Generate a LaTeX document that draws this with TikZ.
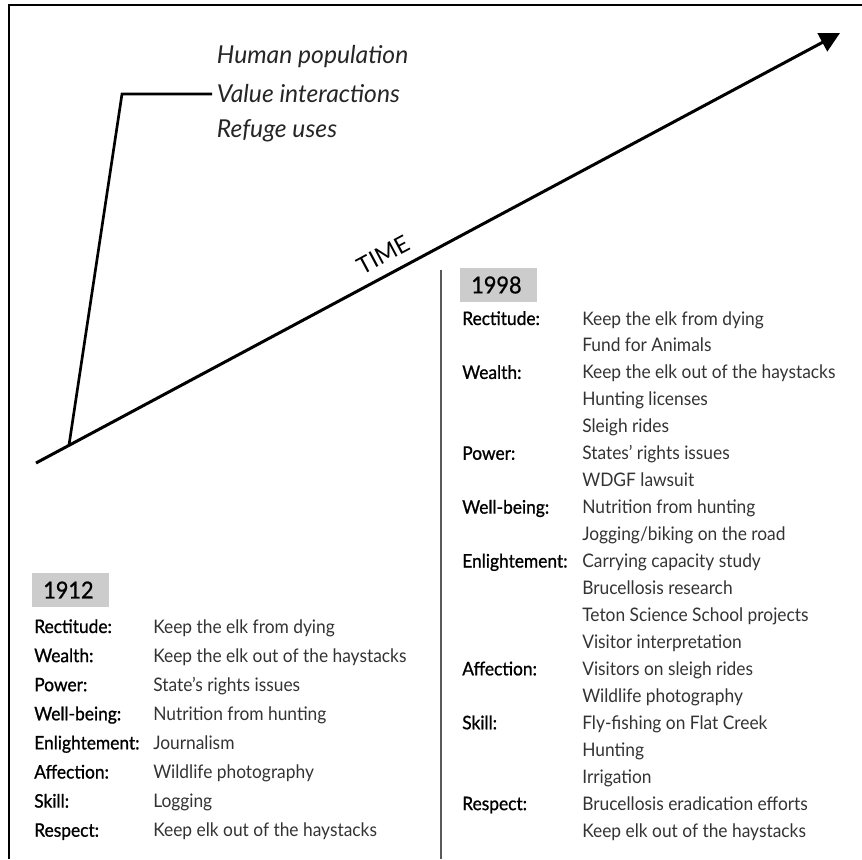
\documentclass[tikz,border=0pt]{standalone}
\usepackage{fontspec}
\setmainfont{Lato}
\newfontfamily\bodyfont{Lato}[FakeStretch=0.93]
\newfontfamily\labelfont{Lato}[FakeStretch=0.93,FakeBold=0.9]
\usetikzlibrary{arrows.meta,positioning,calc}

\tikzset{
  frame/.style={line width=1.25pt},
  timeline/.style={line width=2.25pt,-{Triangle[length=15pt,width=15pt]}},
  bracket/.style={line width=2pt},
  divider/.style={line width=1.5pt,black!65},
  trend/.style={anchor=west,inner xsep=3.5pt,inner ysep=0pt,
    font=\fontsize{18.5}{20}\selectfont\itshape,text=black!85},
  yearbox/.style={anchor=west,fill=black!20,inner xsep=8.25pt,
    text width=41.25pt,minimum height=25.5pt,font=\labelfont\fontsize{17.5}{20}\selectfont},
  valname/.style={anchor=base west,inner sep=0pt,font=\labelfont\fontsize{14}{16}\selectfont},
  valitem/.style={anchor=base west,inner sep=0pt,font=\bodyfont\fontsize{14}{16}\selectfont,
    text=black!80},
}

\begin{document}
\begin{tikzpicture}[x=0.75pt,y=-0.75pt]
  \useasboundingbox (0,0) rectangle (862,859);

  % frame
  \draw[frame] (9,859) -- (9,5) -- (862,5);

  % time axis
  \coordinate (t0) at (36,463);
  \coordinate (t1) at (840,33);
  \draw[timeline] (t0) -- (t1);
  \node[rotate=28.1,font=\fontsize{17.5}{19}\selectfont] (time) at (383,255) {TIME};

  % trends
  \node[trend] (hpop) at (212,57) {Human population};
  \node[trend] (vint) at (212,94) {Value interactions};
  \node[trend] (ruse) at (212,131) {Refuge uses};
  \coordinate (foot) at ($(t0)!0.041!(t1)$);
  \coordinate (knee) at (122,94);
  \draw[bracket] (foot) -- (knee) -- (vint.west);

  % divider
  \draw[divider] (441,270) -- (441,859);

  % 1912
  \node[yearbox] (y1912) at (32,590) {1912};
  \foreach \lab/\val [count=\r from 0] in {
      Rectitude:/Keep the elk from dying,
      Wealth:/Keep the elk out of the haystacks,
      Power:/State’s rights issues,
      Well-being:/Nutrition from hunting,
      Enlightement:/Journalism,
      Affection:/Wildlife photography,
      Skill:/Logging,
      Respect:/Keep elk out of the haystacks}{
    \node[valname] (a\r) at (34,{633+29.1*\r}) {\lab};
    \node[valitem] (b\r) at (153,{633+29.1*\r}) {\val};
  }

  % 1998
  \node[yearbox] (y1998) at (460,285) {1998};
  \foreach \r/\lab in {0/Rectitude:,2/Wealth:,5/Power:,7/Well-being:,
      9/Enlightement:,13/Affection:,15/Skill:,18/Respect:}{
    \node[valname] (c\r) at (462,{325+26.95*\r}) {\lab};
  }
  \foreach \val [count=\r from 0] in {
      Keep the elk from dying,
      Fund for Animals,
      Keep the elk out of the haystacks,
      Hunting licenses,
      Sleigh rides,
      States’ rights issues,
      WDGF lawsuit,
      Nutrition from hunting,
      Jogging/biking on the road,
      Carrying capacity study,
      Brucellosis research,
      Teton Science School projects,
      Visitor interpretation,
      Visitors on sleigh rides,
      Wildlife photography,
      Fly-fishing on Flat Creek,
      Hunting,
      Irrigation,
      Brucellosis eradication efforts,
      Keep elk out of the haystacks}{
    \node[valitem] (d\r) at (582,{325+26.95*\r}) {\val};
  }
\end{tikzpicture}
\end{document}
